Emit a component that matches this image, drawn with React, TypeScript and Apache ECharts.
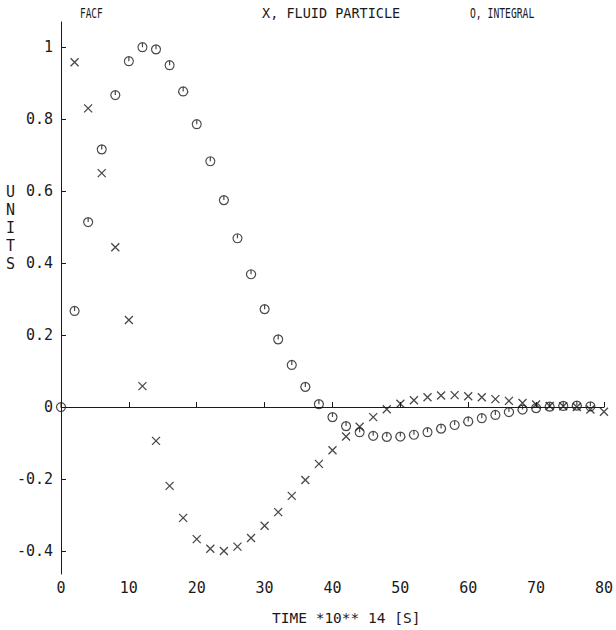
import React, { useEffect, useRef } from "react";
import * as echarts from "echarts";

const timesFluid = [2, 4, 6, 8, 10, 12, 14, 16, 18, 20, 22, 24, 26, 28, 30, 32, 34, 36, 38, 40, 42, 44, 46, 48, 50, 52, 54, 56, 58, 60, 62, 64, 66, 68, 70, 72, 74, 76, 78, 80];
const fluidParticle = [0.958, 0.83, 0.65, 0.444, 0.242, 0.058, -0.094, -0.219, -0.308, -0.367, -0.394, -0.4, -0.388, -0.364, -0.33, -0.292, -0.247, -0.203, -0.158, -0.12, -0.082, -0.055, -0.028, -0.006, 0.009, 0.019, 0.027, 0.032, 0.033, 0.03, 0.027, 0.022, 0.017, 0.011, 0.007, 0.003, 0.002, 0, -0.007, -0.013];

const timesIntegral = [0, 2, 4, 6, 8, 10, 12, 14, 16, 18, 20, 22, 24, 26, 28, 30, 32, 34, 36, 38, 40, 42, 44, 46, 48, 50, 52, 54, 56, 58, 60, 62, 64, 66, 68, 70, 72, 74, 76, 78];
const integral = [0, 0.267, 0.514, 0.716, 0.867, 0.961, 1.0, 0.994, 0.95, 0.877, 0.786, 0.683, 0.575, 0.469, 0.369, 0.272, 0.188, 0.117, 0.056, 0.008, -0.028, -0.053, -0.07, -0.08, -0.083, -0.082, -0.077, -0.07, -0.06, -0.05, -0.04, -0.031, -0.022, -0.014, -0.007, -0.003, 0.001, 0.003, 0.004, 0.002];

const yTicks = [-0.4, -0.2, 0, 0.2, 0.4, 0.6, 0.8, 1];

const FONT = "DejaVu Sans Mono";
const INK = "#1a1a1a";

export default function App() {
  const ref = useRef<HTMLDivElement>(null);
  useEffect(() => {
    document.body.style.margin = "0";
    if (!ref.current) return;
    const chart = echarts.init(ref.current, null, { renderer: "svg" });
    chart.setOption({
      animation: false,
      backgroundColor: "#ffffff",
      grid: { left: 61, right: 8, top: 22, bottom: 56 },
      xAxis: {
        type: "value",
        min: 0,
        max: 80,
        interval: 10,
        axisLine: { show: true, lineStyle: { color: INK, width: 1 } },
        axisTick: { show: true, inside: true, length: 5, lineStyle: { color: INK } },
        axisLabel: { color: INK, fontFamily: FONT, fontSize: 15, margin: 6 },
        splitLine: { show: false },
      },
      yAxis: {
        type: "value",
        min: -0.464,
        max: 1.07,
        axisLine: { show: true, lineStyle: { color: INK, width: 1 } },
        axisTick: { show: true, inside: true, length: 5, customValues: yTicks, lineStyle: { color: INK } },
        axisLabel: {
          customValues: yTicks,
          color: INK,
          fontFamily: FONT,
          fontSize: 15,
          margin: 8,
          formatter: (v: number) => String(Math.round(v * 10) / 10),
        },
        splitLine: { show: false },
      },
      graphic: [
        { type: "text", x: 80, y: 6, scaleX: 0.7, style: { text: "FACF", font: `13.5px '${FONT}'`, fill: INK } },
        { type: "text", x: 262, y: 6, style: { text: "X, FLUID PARTICLE", font: `13.5px '${FONT}'`, fill: INK } },
        { type: "text", x: 470, y: 6, scaleX: 0.72, style: { text: "O, INTEGRAL", font: `13.5px '${FONT}'`, fill: INK } },
        { type: "text", x: 272, y: 610, style: { text: "TIME *10** 14 [S]", font: `14.5px '${FONT}'`, fill: INK } },
        {
          type: "text",
          x: 6,
          y: 183,
          style: { text: "U\nN\nI\nT\nS", font: `15px '${FONT}'`, fill: INK, lineHeight: 18 },
        },
      ],
      series: [
        {
          name: "FLUID PARTICLE",
          type: "scatter",
          symbol: "path://M0,0 L10,10 M10,0 L0,10",
          symbolSize: 8,
          itemStyle: { color: "transparent", borderColor: INK, borderWidth: 1.3 },
          data: timesFluid.map((t, i) => [t, fluidParticle[i]]),
        },
        {
          name: "INTEGRAL",
          type: "scatter",
          symbol: "path://M5,0 A5,5 0 1,1 4.99,0 Z M5,0 L5,5",
          symbolSize: 9,
          itemStyle: { color: "transparent", borderColor: INK, borderWidth: 1.2 },
          data: timesIntegral.map((t, i) => [t, integral[i]]),
        },
      ],
    });
    return () => chart.dispose();
  }, []);
  return <div ref={ref} style={{ width: 616, height: 630 }} />;
}
